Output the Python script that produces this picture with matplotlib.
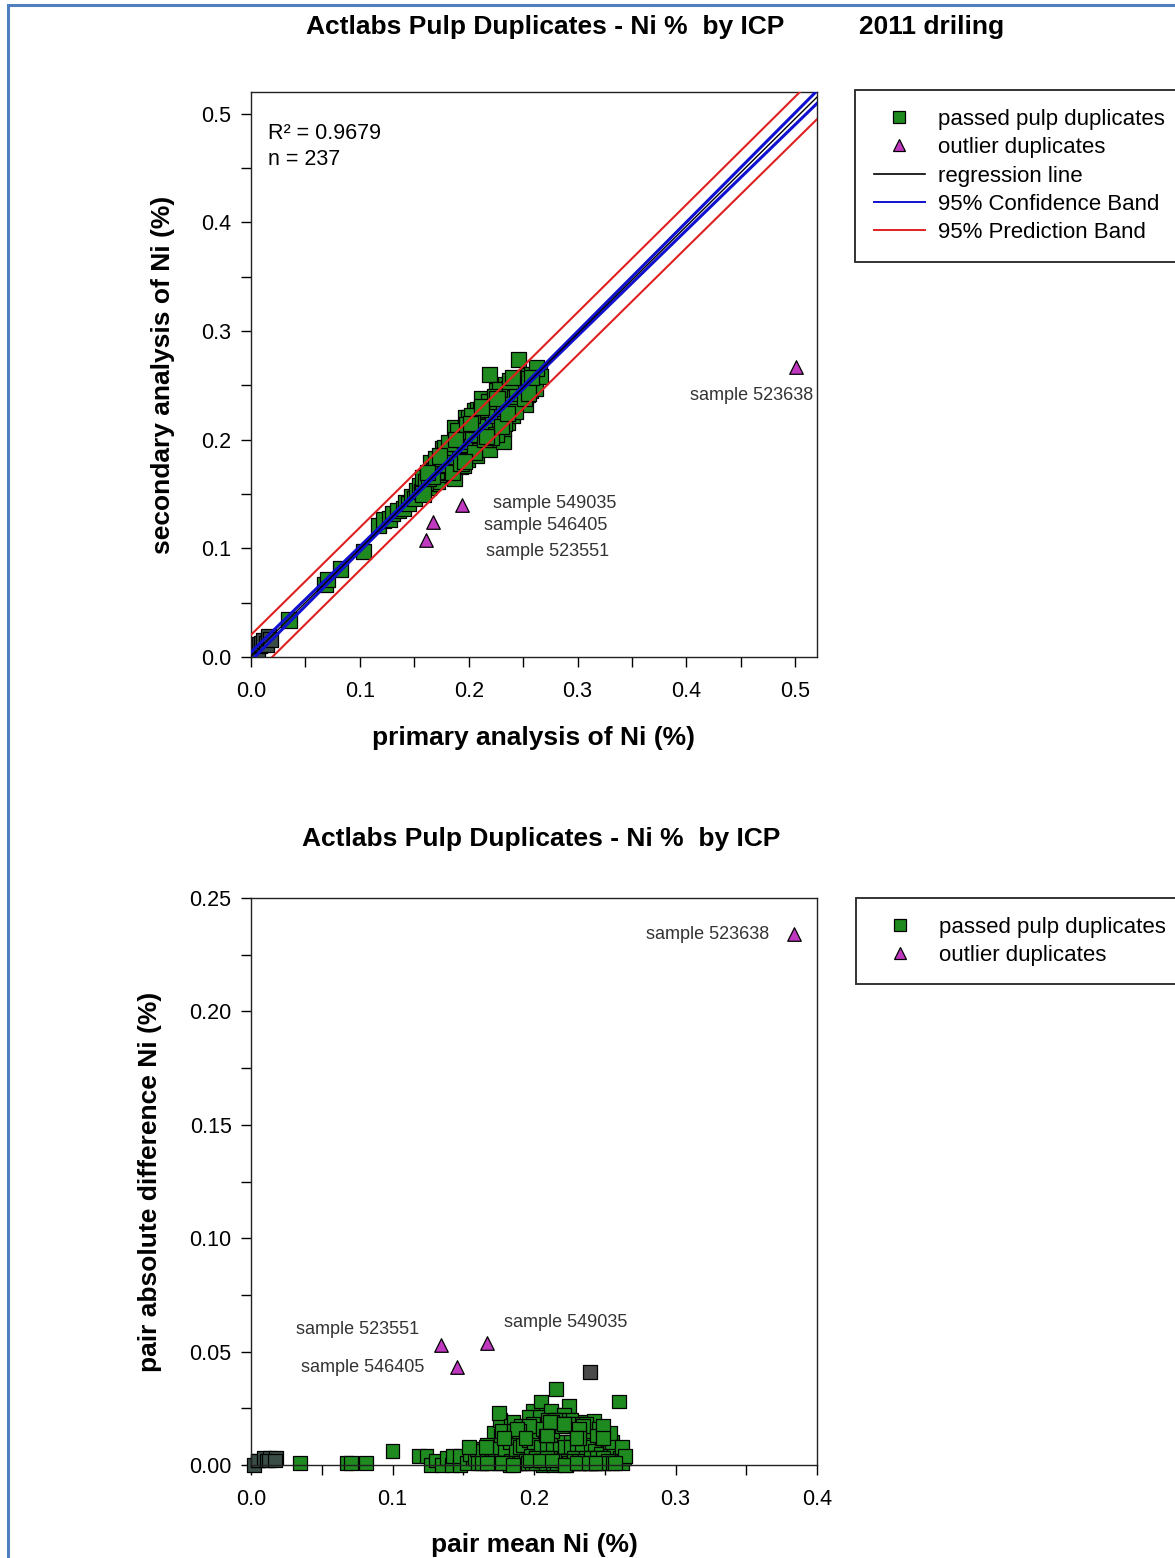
import numpy as np
import matplotlib
matplotlib.use("Agg")
import matplotlib.pyplot as plt
from matplotlib.lines import Line2D
from matplotlib.patches import Rectangle

plt.rcParams['font.family'] = ['Liberation Sans', 'DejaVu Sans']

# ---------------- data ----------------
passed_primary = [
    0.002, 0.004, 0.006, 0.008, 0.010, 0.012, 0.014, 0.016, 0.018, 0.035,
    0.068, 0.070, 0.082, 0.103, 0.117, 0.122, 0.127, 0.130, 0.135, 0.140,
    0.142, 0.145, 0.148, 0.150,
    0.152, 0.155, 0.157, 0.158, 0.160, 0.162, 0.163, 0.165, 0.165, 0.166,
    0.168, 0.169, 0.170, 0.171, 0.172, 0.174, 0.175,
    0.176, 0.178, 0.179, 0.180, 0.181, 0.182, 0.183, 0.184, 0.185, 0.186,
    0.187, 0.187, 0.188, 0.189, 0.190, 0.191, 0.192, 0.193, 0.194, 0.195,
    0.196, 0.187, 0.197, 0.197, 0.198, 0.199, 0.200,
    0.201, 0.202, 0.203, 0.204, 0.205, 0.205, 0.206, 0.207, 0.208, 0.209,
    0.210, 0.211, 0.212, 0.212, 0.213, 0.214, 0.215, 0.216, 0.217, 0.218,
    0.219, 0.219, 0.220, 0.221, 0.222, 0.223, 0.224, 0.225, 0.226, 0.226,
    0.227, 0.228, 0.229, 0.230,
    0.231, 0.232, 0.232, 0.233, 0.234, 0.234, 0.235, 0.236, 0.237, 0.238,
    0.239, 0.240, 0.241, 0.242, 0.243, 0.244, 0.245, 0.246, 0.246, 0.247,
    0.248, 0.249, 0.250, 0.251, 0.252, 0.253, 0.254, 0.255, 0.256, 0.257,
    0.258, 0.259, 0.260, 0.261, 0.262, 0.263, 0.265, 0.266, 0.262,
    0.170, 0.175, 0.180, 0.183, 0.186, 0.189, 0.191, 0.193, 0.195, 0.198,
    0.200, 0.202, 0.204, 0.206, 0.208, 0.210, 0.211, 0.213, 0.215, 0.217,
    0.219, 0.221, 0.223, 0.225, 0.227, 0.229, 0.231, 0.233, 0.235, 0.237,
    0.239, 0.241, 0.243, 0.245, 0.247, 0.249, 0.251, 0.253, 0.255, 0.258,
    0.160, 0.163, 0.167, 0.178, 0.185, 0.196, 0.203, 0.214, 0.222, 0.230,
    0.238, 0.244,
    0.170, 0.185, 0.178, 0.193, 0.190, 0.205, 0.200, 0.215, 0.208, 0.225,
    0.218, 0.233, 0.228, 0.243, 0.238, 0.251, 0.182, 0.198, 0.211, 0.224,
    0.203, 0.221, 0.196, 0.240, 0.255, 0.173, 0.230, 0.212, 0.202, 0.216,
    0.226, 0.236, 0.188, 0.162, 0.158,
]
passed_secondary = [
    0.002, 0.006, 0.004, 0.011, 0.012, 0.015, 0.012, 0.019, 0.016, 0.034,
    0.067, 0.071, 0.081, 0.097, 0.121, 0.126, 0.127, 0.132, 0.135, 0.137,
    0.142, 0.141, 0.148, 0.146,
    0.153, 0.158, 0.152, 0.165, 0.157, 0.163, 0.156, 0.179, 0.168, 0.160,
    0.172, 0.165, 0.175, 0.162, 0.168, 0.181, 0.170,
    0.192, 0.175, 0.185, 0.172, 0.190, 0.180, 0.176, 0.194, 0.183, 0.166,
    0.164, 0.188, 0.178, 0.199, 0.184, 0.192, 0.175, 0.201, 0.186, 0.176,
    0.194, 0.211, 0.220, 0.188, 0.205, 0.182, 0.196,
    0.209, 0.191, 0.200, 0.214, 0.227, 0.195, 0.206, 0.186, 0.218, 0.201,
    0.211, 0.196, 0.238, 0.222, 0.205, 0.214, 0.194, 0.226, 0.210, 0.219,
    0.191, 0.260, 0.205, 0.231, 0.215, 0.223, 0.200, 0.236, 0.245, 0.218,
    0.228, 0.209, 0.240, 0.222,
    0.232, 0.1985, 0.210, 0.243, 0.251, 0.226, 0.236, 0.216, 0.247, 0.230,
    0.240, 0.222, 0.252, 0.229, 0.244, 0.236, 0.256, 0.274, 0.240, 0.249,
    0.233, 0.255, 0.245, 0.257, 0.2325, 0.250, 0.242, 0.259, 0.252, 0.245,
    0.260, 0.254, 0.250, 0.247, 0.259, 0.262, 0.262, 0.258, 0.266,
    0.171, 0.176, 0.181, 0.183, 0.187, 0.190, 0.190, 0.195, 0.196, 0.199,
    0.203, 0.201, 0.206, 0.204, 0.209, 0.213, 0.208, 0.214, 0.217, 0.216,
    0.221, 0.219, 0.225, 0.224, 0.230, 0.227, 0.233, 0.232, 0.238, 0.235,
    0.242, 0.240, 0.246, 0.244, 0.250, 0.248, 0.253, 0.252, 0.256, 0.257,
    0.161, 0.164, 0.166, 0.177, 0.185, 0.198, 0.205, 0.212, 0.222, 0.231,
    0.239, 0.243,
    0.183, 0.170, 0.193, 0.178, 0.208, 0.188, 0.220, 0.200, 0.228, 0.205,
    0.235, 0.215, 0.246, 0.226, 0.254, 0.238, 0.197, 0.214, 0.228, 0.240,
    0.222, 0.202, 0.180, 0.257, 0.243, 0.185, 0.212, 0.230, 0.215, 0.203,
    0.238, 0.224, 0.200, 0.170, 0.150,
]
outlier_ids = ["sample 523638", "sample 549035", "sample 546405", "sample 523551"]
outlier_primary = [0.501, 0.194, 0.167, 0.161]
outlier_secondary = [0.267, 0.140, 0.124, 0.108]

r_squared = 0.9679
n_pairs = 237
fit_slope = 0.990
fit_intercept = 0.0005
fit_x_center = 0.205
conf_hw_center = 0.0012
conf_hw_growth = 0.018
pred_hw_base = 0.0195

# ---------------- derived ----------------
pp = np.array(passed_primary)
ps = np.array(passed_secondary)
op = np.array(outlier_primary)
os_ = np.array(outlier_secondary)
p_mean = (pp + ps) / 2
p_diff = np.abs(pp - ps)
o_mean = (op + os_) / 2
o_diff = np.abs(op - os_)

GREEN = '#1f8a1f'
DARK = '#3a4d47'
PURPLE = '#c038c0'
low_cut = 0.02
top_cols = [DARK if v < low_cut else GREEN for v in pp]
bot_cols = [DARK if v < low_cut else GREEN for v in p_mean]
bot_cols[int(np.argmax(p_diff))] = '#4a4a4a'

W, H = 1175, 1558
fig = plt.figure(figsize=(W / 100, H / 100), dpi=100)


def fx(px):
    return px / W


def fy(py):
    return 1 - py / H


# page frame
fig.patches.append(Rectangle((fx(8), -0.05), 1.2, fy(5) + 0.05, transform=fig.transFigure,
                             fill=False, edgecolor='#4f7fbf', linewidth=2.2))

TICK_FS = 15.5
LABEL_FS = 19
TITLE_FS = 19
ANN_FS = 13
LEG_FS = 16


def style_axes(ax):
    for s in ax.spines.values():
        s.set_linewidth(1.0)
        s.set_color('#222222')
    ax.tick_params(which='both', direction='out', length=7, width=1.0,
                   labelsize=TICK_FS, top=False, right=False)
    ax.tick_params(axis='x', which='both', pad=10)
    ax.tick_params(axis='y', which='both', pad=7)


# ---------------- top plot ----------------
ax1 = fig.add_axes([fx(251), fy(657), fx(817) - fx(251), fy(92) - fy(657)])
ax1.set_xlim(0, 0.52)
ax1.set_ylim(0, 0.52)
ax1.set_xticks([0.0, 0.1, 0.2, 0.3, 0.4, 0.5])
ax1.set_yticks([0.0, 0.1, 0.2, 0.3, 0.4, 0.5])
ax1.set_xticks(np.arange(0.05, 0.52, 0.1), minor=True)
ax1.set_yticks(np.arange(0.05, 0.52, 0.1), minor=True)
ax1.set_xticklabels([f"{v:.1f}" for v in [0, .1, .2, .3, .4, .5]])
ax1.set_yticklabels([f"{v:.1f}" for v in [0, .1, .2, .3, .4, .5]])
style_axes(ax1)

ax1.scatter(pp, ps, marker='s', s=120, c=top_cols, edgecolors='black', linewidths=0.9, zorder=2)
ax1.scatter(op, os_, marker='^', s=95, c=PURPLE, edgecolors='black', linewidths=0.9, zorder=2)

xg = np.linspace(0, 0.52, 200)
yfit = fit_intercept + fit_slope * xg
conf_hw = np.sqrt(conf_hw_center ** 2 + (conf_hw_growth * (xg - fit_x_center)) ** 2)
pred_hw = np.sqrt(pred_hw_base ** 2 + conf_hw ** 2)
ax1.plot(xg, yfit + pred_hw, color='#e02020', lw=1.5, zorder=3)
ax1.plot(xg, yfit - pred_hw, color='#e02020', lw=1.5, zorder=3)
ax1.plot(xg, yfit + conf_hw, color='#1010d0', lw=2.2, zorder=3)
ax1.plot(xg, yfit - conf_hw, color='#1010d0', lw=2.2, zorder=3)
ax1.plot(xg, yfit, color='black', lw=1.0, zorder=4)

ax1.text(0.030, 0.927, f"R\u00b2 = {r_squared:.4f}", transform=ax1.transAxes,
         fontsize=15.5, ha='left', va='center')
ax1.text(0.030, 0.881, f"n = {n_pairs}", transform=ax1.transAxes,
         fontsize=15.5, ha='left', va='center')

top_offsets = [(-45, -29), (93, 1), (113, -3), (121, -12)]
for lab, x, y, off in zip(outlier_ids, op, os_, top_offsets):
    ax1.annotate(lab, (x, y), xytext=off, textcoords='offset pixels', ha='center',
                 va='center', fontsize=ANN_FS, color='#333333')

ax1.set_xlabel("primary analysis of Ni (%)", fontsize=LABEL_FS, fontweight='bold', va='center')
ax1.set_ylabel("secondary analysis of Ni (%)", fontsize=LABEL_FS, fontweight='bold', va='center')
ax1.xaxis.set_label_coords(0.5, -0.143)
ax1.yaxis.set_label_coords(-0.1555, 0.5)

fig.text(fx(545), fy(27), "Actlabs Pulp Duplicates - Ni %  by ICP", fontsize=TITLE_FS,
         fontweight='bold', ha='center', va='center')
fig.text(fx(932), fy(27), "2011 driling", fontsize=TITLE_FS, fontweight='bold',
         ha='center', va='center')

h_sq = Line2D([], [], marker='s', ls='none', markersize=9, markerfacecolor=GREEN,
              markeredgecolor='black', markeredgewidth=0.9)
h_tr = Line2D([], [], marker='^', ls='none', markersize=9, markerfacecolor=PURPLE,
              markeredgecolor='black', markeredgewidth=0.9)
h_reg = Line2D([], [], color='black', lw=1.2)
h_conf = Line2D([], [], color='#1010d0', lw=1.4)
h_pred = Line2D([], [], color='#e02020', lw=1.4)
leg1 = fig.legend([h_sq, h_tr, h_reg, h_conf, h_pred],
                  ["passed pulp duplicates", "outlier duplicates", "regression line",
                   "95% Confidence Band", "95% Prediction Band"],
                  loc='upper left', bbox_to_anchor=(fx(855), fy(90)), fontsize=LEG_FS,
                  frameon=True, fancybox=False, handlelength=2.3, handletextpad=0.6,
                  labelspacing=0.33, borderpad=0.85, borderaxespad=0)
leg1.get_frame().set_edgecolor('black')
leg1.get_frame().set_linewidth(1.4)

# ---------------- bottom plot ----------------
ax2 = fig.add_axes([fx(251), fy(1465), fx(817) - fx(251), fy(898) - fy(1465)])
ax2.set_xlim(0, 0.4)
ax2.set_ylim(0, 0.25)
ax2.set_xticks([0.0, 0.1, 0.2, 0.3, 0.4])
ax2.set_xticklabels(["0.0", "0.1", "0.2", "0.3", "0.4"])
ax2.set_xticks(np.arange(0.05, 0.4, 0.1), minor=True)
ax2.set_yticks([0.0, 0.05, 0.10, 0.15, 0.20, 0.25])
ax2.set_yticklabels(["0.00", "0.05", "0.10", "0.15", "0.20", "0.25"])
ax2.set_yticks(np.arange(0.025, 0.25, 0.05), minor=True)
style_axes(ax2)

ax2.scatter(p_mean, p_diff, marker='s', s=100, c=bot_cols, edgecolors='black', linewidths=0.9,
            zorder=2, clip_on=False)
ax2.scatter(o_mean, o_diff, marker='^', s=95, c=PURPLE, edgecolors='black', linewidths=0.9,
            zorder=2)

bot_offsets = [(-87, 0), (78, 20), (-94, 0), (-84, 15)]
for lab, x, y, off in zip(outlier_ids, o_mean, o_diff, bot_offsets):
    ax2.annotate(lab, (x, y), xytext=off, textcoords='offset pixels', ha='center',
                 va='center', fontsize=ANN_FS, color='#333333')

ax2.set_xlabel("pair mean Ni (%)", fontsize=LABEL_FS, fontweight='bold', va='center')
ax2.set_ylabel("pair absolute difference Ni (%)", fontsize=LABEL_FS, fontweight='bold', va='center')
ax2.xaxis.set_label_coords(0.5, -0.141)
ax2.yaxis.set_label_coords(-0.178, 0.5)

fig.text(fx(541), fy(839), "Actlabs Pulp Duplicates - Ni %  by ICP", fontsize=TITLE_FS,
         fontweight='bold', ha='center', va='center')

leg2 = fig.legend([h_sq, h_tr], ["passed pulp duplicates", "outlier duplicates"],
                  loc='upper left', bbox_to_anchor=(fx(856), fy(898)), fontsize=LEG_FS,
                  frameon=True, fancybox=False, handlelength=2.3, handletextpad=0.6,
                  labelspacing=0.3, borderpad=0.85, borderaxespad=0)
leg2.get_frame().set_edgecolor('black')
leg2.get_frame().set_linewidth(1.4)

fig.savefig("out.png", dpi=100, facecolor='white')
